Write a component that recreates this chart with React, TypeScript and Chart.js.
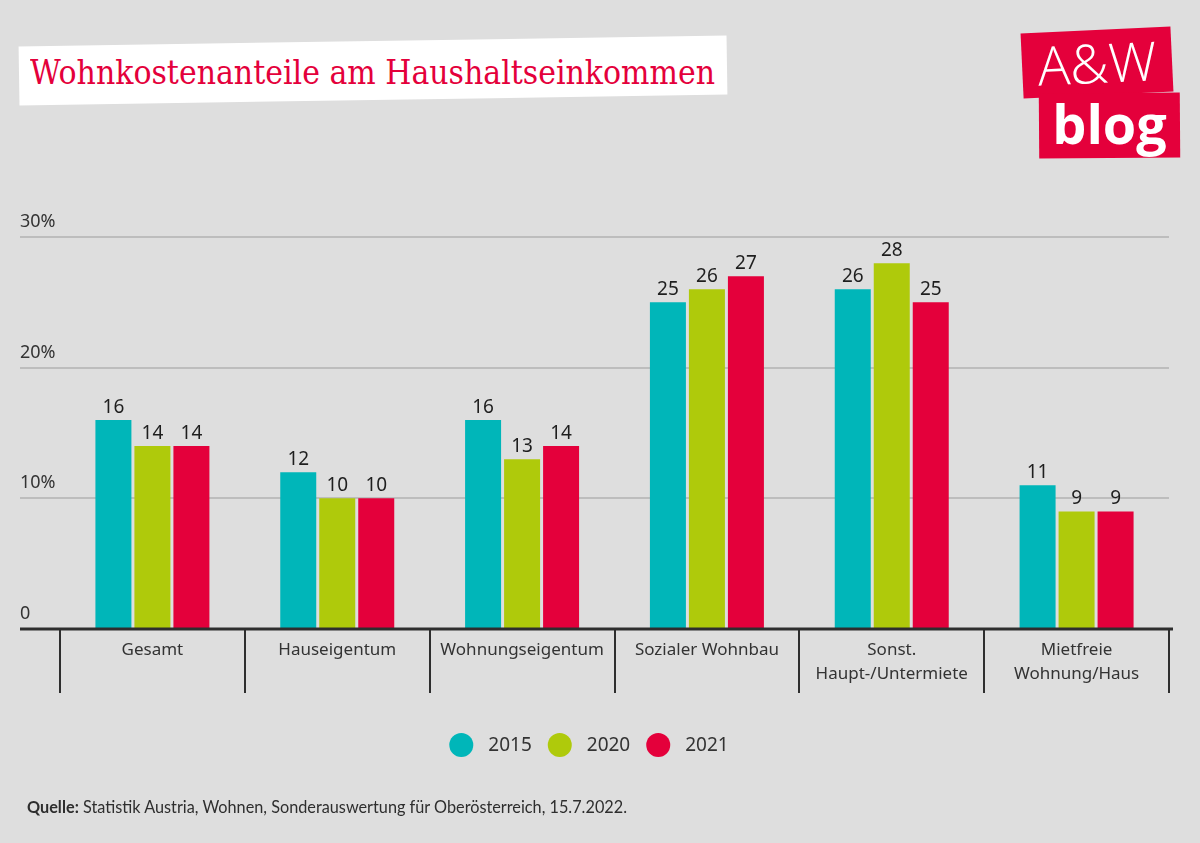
import React, { useEffect, useLayoutEffect, useRef } from 'react';
import { Chart, registerables } from 'chart.js';

Chart.register(...registerables);

// ---- data ----
const categories: string[][] = [
  ['Gesamt'],
  ['Hauseigentum'],
  ['Wohnungseigentum'],
  ['Sozialer Wohnbau'],
  ['Sonst.', 'Haupt-/Untermiete'],
  ['Mietfreie', 'Wohnung/Haus'],
];
const seriesNames = ['2015', '2020', '2021'];
const values2015 = [16, 12, 16, 25, 26, 11];
const values2020 = [14, 10, 13, 26, 28, 9];
const values2021 = [14, 10, 14, 27, 25, 9];
const seriesColors = ['#00B6B9', '#AFCA0B', '#E4003B'];
const yTickValues = [0, 10, 20, 30];

const titleText = 'Wohnkostenanteile am Haushaltseinkommen';
const sourceLabel = 'Quelle:';
const sourceText = ' Statistik Austria, Wohnen, Sonderauswertung für Oberösterreich, 15.7.2022.';

const TEXT = '#333333';
const SANS = "'Noto Sans', 'Open Sans', sans-serif";

const valueLabelPlugin = {
  id: 'valueLabels',
  afterDatasetsDraw(chart: any) {
    const { ctx } = chart;
    ctx.save();
    ctx.font = `19px ${SANS}`;
    ctx.fillStyle = '#1e1e1e';
    ctx.textAlign = 'center';
    ctx.textBaseline = 'alphabetic';
    chart.data.datasets.forEach((ds: any, i: number) => {
      const meta = chart.getDatasetMeta(i);
      meta.data.forEach((el: any, j: number) => {
        ctx.fillText(String(ds.data[j]), el.x, el.y - 7);
      });
    });
    ctx.restore();
  },
};

const baselinePlugin = {
  id: 'baseline',
  afterDatasetsDraw(chart: any) {
    const { ctx, chartArea } = chart;
    const yScale = chart.scales.y;
    const y = yScale.getPixelForValue(0);
    ctx.save();
    ctx.strokeStyle = '#2e2e2e';
    ctx.lineWidth = 3;
    ctx.beginPath();
    ctx.moveTo(yScale.left, y);
    ctx.lineTo(chartArea.right + 4, y);
    ctx.stroke();
    ctx.restore();
  },
};

const legendPlugin = {
  id: 'circleLegend',
  afterDraw(chart: any) {
    const { ctx } = chart;
    const r = 12;
    const gapText = 15;
    const gapItem = 16;
    ctx.save();
    ctx.font = `19px ${SANS}`;
    const items = chart.data.datasets.map((ds: any) => ({
      label: ds.label,
      color: ds.backgroundColor,
      w: ctx.measureText(ds.label).width,
    }));
    const total =
      items.reduce((s: number, it: any) => s + 2 * r + gapText + it.w, 0) +
      gapItem * (items.length - 1);
    let x = 589 - total / 2;
    const y = 745;
    items.forEach((it: any) => {
      ctx.fillStyle = it.color;
      ctx.beginPath();
      ctx.arc(x + r, y, r, 0, Math.PI * 2);
      ctx.fill();
      ctx.fillStyle = TEXT;
      ctx.textAlign = 'left';
      ctx.textBaseline = 'middle';
      ctx.fillText(it.label, x + 2 * r + gapText, y + 1);
      x += 2 * r + gapText + it.w + gapItem;
    });
    ctx.restore();
  },
};

function FitText({ target, style, children }: { target: number; style: any; children: any }) {
  const ref = useRef<HTMLSpanElement>(null);
  useLayoutEffect(() => {
    const el = ref.current;
    if (!el) return;
    el.style.transform = 'none';
    const w = el.getBoundingClientRect().width;
    if (w > 0) el.style.transform = `scaleX(${target / w})`;
  });
  return (
    <span
      ref={ref}
      style={{ display: 'inline-block', whiteSpace: 'nowrap', transformOrigin: 'left center', ...style }}
    >
      {children}
    </span>
  );
}

export default function App() {
  const canvasRef = useRef<HTMLCanvasElement>(null);

  useEffect(() => {
    document.body.style.margin = '0';
    const canvas = canvasRef.current;
    if (!canvas) return;
    const seriesValues = [values2015, values2020, values2021];
    const chart = new Chart(canvas, {
      type: 'bar',
      data: {
        labels: categories,
        datasets: seriesNames.map((name, i) => ({
          label: name,
          data: seriesValues[i],
          backgroundColor: seriesColors[i],
          borderWidth: 0,
          barPercentage: 0.923,
          categoryPercentage: 0.633,
        })),
      },
      options: {
        responsive: false,
        animation: false,
        devicePixelRatio: 1,
        layout: { padding: { left: 20, right: 31, top: 237, bottom: 150 } },
        plugins: {
          legend: { display: false },
          tooltip: { enabled: false },
          title: { display: false },
        },
        scales: {
          x: {
            type: 'category',
            offset: true,
            border: { display: false },
            grid: {
              display: true,
              offset: true,
              drawOnChartArea: false,
              drawTicks: true,
              tickLength: 64,
              color: '#2e2e2e',
              lineWidth: 2,
            },
            ticks: {
              padding: -55,
              color: TEXT,
              font: { family: SANS, size: 17, lineHeight: 1.42 },
              maxRotation: 0,
              minRotation: 0,
              autoSkip: false,
            },
            afterFit(scale: any) {
              scale.height = 64;
              scale.paddingLeft = 0;
              scale.paddingRight = 0;
            },
          },
          y: {
            min: 0,
            max: 30,
            border: { display: false },
            afterBuildTicks(scale: any) {
              scale.ticks = yTickValues.map((v) => ({ value: v }));
            },
            grid: {
              drawTicks: true,
              tickLength: 40,
              color: (ctx: any) => (ctx.tick && ctx.tick.value === 0 ? 'rgba(0,0,0,0)' : '#bdbdbd'),
              lineWidth: 2,
            },
            ticks: {
              crossAlign: 'far',
              labelOffset: -15,
              padding: 0,
              color: TEXT,
              font: { family: SANS, size: 18 },
              callback: (v: any) => (Number(v) === 0 ? '0' : `${v}%`),
            },
            afterFit(scale: any) {
              scale.width = 40;
              scale.paddingTop = 0;
              scale.paddingBottom = 0;
            },
          },
        },
      },
      plugins: [baselinePlugin, valueLabelPlugin, legendPlugin],
    } as any);
    return () => chart.destroy();
  }, []);

  return (
    <div
      style={{
        position: 'absolute',
        left: 0,
        top: 0,
        width: 1200,
        height: 843,
        background: '#dedede',
        overflow: 'hidden',
        fontFamily: SANS,
      }}
    >
      {/* title */}
      <div
        style={{
          position: 'absolute',
          left: 19,
          top: 41,
          width: 708,
          height: 59,
          background: '#ffffff',
          transform: 'rotate(-0.88deg)',
        }}
      />
      <div style={{ position: 'absolute', left: 30, top: 52, height: 40, lineHeight: '40px' }}>
        <FitText
          target={685}
          style={{
            fontFamily: "'DejaVu Serif Condensed', 'DejaVu Serif', serif",
            fontSize: 34,
            color: '#E4003B',
          }}
        >
          {titleText}
        </FitText>
      </div>

      {/* logo */}
      <div
        style={{
          position: 'absolute',
          left: 1022,
          top: 30,
          width: 150,
          height: 65,
          background: '#E4003B',
          transform: 'rotate(-2.7deg)',
        }}
      />
      <div
        style={{
          position: 'absolute',
          left: 1039,
          top: 93,
          width: 141,
          height: 65,
          background: '#E4003B',
          transform: 'rotate(-0.4deg)',
        }}
      />
      <div
        style={{
          position: 'absolute',
          left: 1022,
          top: 30,
          width: 150,
          height: 65,
          color: '#fff',
          fontFamily: "'Open Sans', sans-serif",
          fontWeight: 300,
          fontSize: 54,
          lineHeight: '65px',
          textAlign: 'center',
          transform: 'rotate(-2.7deg)',
        }}
      >
        A&amp;W
      </div>
      <div
        style={{
          position: 'absolute',
          left: 1039,
          top: 92,
          width: 141,
          height: 65,
          color: '#fff',
          fontFamily: "'Open Sans', sans-serif",
          fontWeight: 700,
          fontSize: 54,
          lineHeight: '62px',
          textAlign: 'center',
        }}
      >
        blog
      </div>

      <canvas
        ref={canvasRef}
        width={1200}
        height={843}
        style={{ position: 'absolute', left: 0, top: 0, width: 1200, height: 843 }}
      />

      {/* source */}
      <div style={{ position: 'absolute', left: 27, top: 796, height: 22, lineHeight: '22px' }}>
        <FitText target={600} style={{ fontFamily: "'Lato', sans-serif", fontSize: 17, color: '#2e2e2e' }}>
          <b>{sourceLabel}</b>
          {sourceText}
        </FitText>
      </div>
    </div>
  );
}
